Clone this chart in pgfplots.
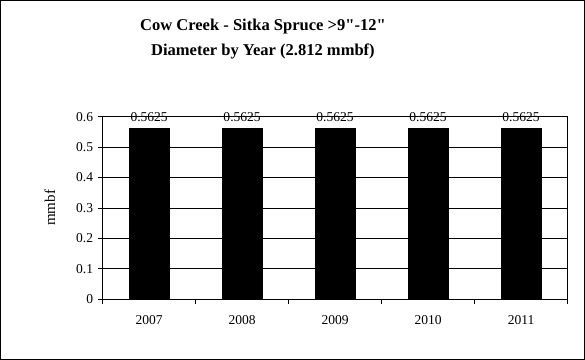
\documentclass[border=0pt]{standalone}
\usepackage{pgfplots}
\pgfplotsset{compat=1.18}
\usepackage{fontspec}
\setmainfont{Liberation Serif}

\begin{document}
\begin{tikzpicture}[x=1pt,y=1pt]
    % outer chart frame
    \draw[line width=0.8pt] (-102,-60) rectangle (481,298);

    \begin{axis}[
        scale only axis,
        width=464pt,
        height=182pt,
        ymin=0, ymax=0.6,
        xmin=-0.5, xmax=4.5,
        ytick={0,0.1,...,0.6},
        yticklabels={0,0.1,0.2,0.3,0.4,0.5,0.6},
        xtick={0,1,2,3,4},
        xticklabels={2007,2008,2009,2010,2011},
        minor xtick={-0.5,0.5,1.5,2.5,3.5,4.5},
        major x tick style={draw=none},
        minor tick length=5pt,
        major tick length=5pt,
        tick align=outside,
        xtick pos=bottom,
        ytick pos=left,
        ymajorgrids,
        grid style={black, line width=0.5pt},
        axis line style={line width=0.6pt},
        tick style={black, line width=0.5pt},
        ylabel={mmbf},
        ylabel style={font=\fontsize{15}{17}\selectfont, yshift=14pt},
        ticklabel style={font=\fontsize{13.5}{15}\selectfont},
        xticklabel style={yshift=-8pt},
        yticklabel style={xshift=-1pt},
        every node near coord/.append style={font=\fontsize{13.5}{15}\selectfont, yshift=3pt},
        nodes near coords,
        point meta=explicit symbolic,
        ybar,
        bar width=0.43,
    ]
    \addplot[fill=black, draw=black] coordinates {
        (0, 0.5625) [0.5625]
        (1, 0.5625) [0.5625]
        (2, 0.5625) [0.5625]
        (3, 0.5625) [0.5625]
        (4, 0.5625) [0.5625]
    };
    \end{axis}

    \node[font=\bfseries\fontsize{16.5}{18}\selectfont, align=center] at (160,259)
        {Cow Creek - Sitka Spruce >9\textquotedbl-12\textquotedbl\\[7pt] Diameter by Year (2.812 mmbf)};
\end{tikzpicture}
\end{document}
